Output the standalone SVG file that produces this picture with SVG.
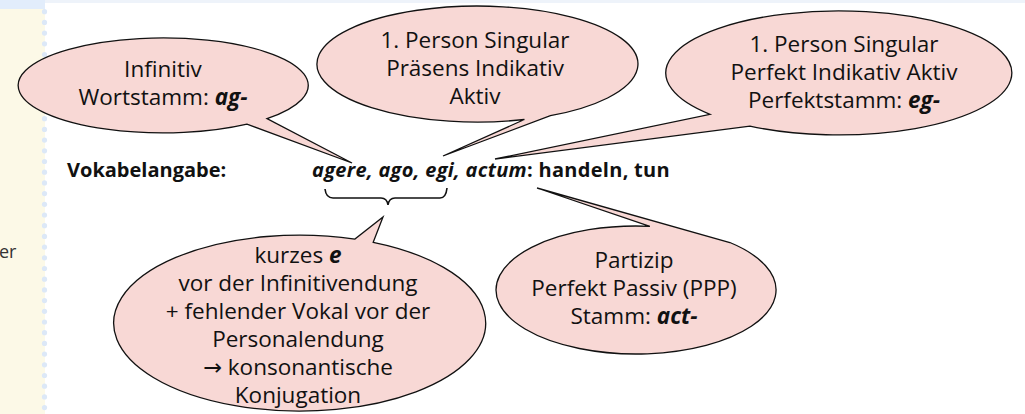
<svg xmlns="http://www.w3.org/2000/svg" width="1025" height="414" viewBox="0 0 1025 414">
<defs>
<style>
.bub{fill:#f8d8d5;stroke:#111;stroke-width:1.3;stroke-linejoin:miter}
.bt{font-family:"Open Sans","Noto Sans","DejaVu Sans",sans-serif;font-size:22.5px;fill:#111;text-anchor:middle}
.main{font-family:"Open Sans","Noto Sans","DejaVu Sans",sans-serif;font-size:20px;font-weight:bold;fill:#111}
.it{font-style:italic;font-weight:bold}
.dot{fill:#dce8f7}
</style>
</defs>
<rect x="0" y="0" width="1025" height="414" fill="#ffffff"/>
<rect x="0" y="0" width="1025" height="3" fill="#eef3fa"/>
<g id="sidebar">
<rect x="0" y="9" width="45" height="405" fill="#fcf9e7"/>
<rect x="0" y="0" width="45" height="9" fill="#e2edfb"/>
<g class="dot">
<circle cx="44.5" cy="11.7" r="2.6"/><circle cx="44.5" cy="22.4" r="2.6"/><circle cx="44.5" cy="33.1" r="2.6"/><circle cx="44.5" cy="43.8" r="2.6"/><circle cx="44.5" cy="54.5" r="2.6"/><circle cx="44.5" cy="65.2" r="2.6"/><circle cx="44.5" cy="75.9" r="2.6"/><circle cx="44.5" cy="86.6" r="2.6"/><circle cx="44.5" cy="97.3" r="2.6"/><circle cx="44.5" cy="108" r="2.6"/><circle cx="44.5" cy="118.7" r="2.6"/><circle cx="44.5" cy="129.4" r="2.6"/><circle cx="44.5" cy="140.1" r="2.6"/><circle cx="44.5" cy="150.8" r="2.6"/><circle cx="44.5" cy="161.5" r="2.6"/><circle cx="44.5" cy="172.2" r="2.6"/><circle cx="44.5" cy="182.9" r="2.6"/><circle cx="44.5" cy="193.6" r="2.6"/><circle cx="44.5" cy="204.3" r="2.6"/><circle cx="44.5" cy="215" r="2.6"/><circle cx="44.5" cy="225.7" r="2.6"/><circle cx="44.5" cy="236.4" r="2.6"/><circle cx="44.5" cy="247.1" r="2.6"/><circle cx="44.5" cy="257.8" r="2.6"/><circle cx="44.5" cy="268.5" r="2.6"/><circle cx="44.5" cy="279.2" r="2.6"/><circle cx="44.5" cy="289.9" r="2.6"/><circle cx="44.5" cy="300.6" r="2.6"/><circle cx="44.5" cy="311.3" r="2.6"/><circle cx="44.5" cy="322" r="2.6"/><circle cx="44.5" cy="332.7" r="2.6"/><circle cx="44.5" cy="343.4" r="2.6"/><circle cx="44.5" cy="354.1" r="2.6"/><circle cx="44.5" cy="364.8" r="2.6"/><circle cx="44.5" cy="375.5" r="2.6"/><circle cx="44.5" cy="386.2" r="2.6"/><circle cx="44.5" cy="396.9" r="2.6"/><circle cx="44.5" cy="407.6" r="2.6"/>
</g>
<text x="-1" y="258" font-family="Open Sans, sans-serif" font-size="18" fill="#333">er</text>
</g>
<g id="vokabel">
<text class="main" x="67" y="177">Vokabelangabe:</text>
<text class="main" x="312" y="177" letter-spacing="0.3"><tspan class="it">agere, ago, egi, actum</tspan>: handeln, tun</text>
</g>
<g id="connectors">
<path id="brace" d="M325,189 Q326,198 333,198 L381,198 Q387,198 388,205 Q389,198 395,198 L440,198 Q446,198 447,188" fill="none" stroke="#111" stroke-width="1.6"/>
</g>
<g id="bubble-infinitiv">
<path class="bub" d="M247.0,124.2 A145,47.5 0 1 1 267.0,118.6 L352,163 Z"/>
<text class="bt" x="163" y="77">Infinitiv</text>
<text class="bt" x="163" y="105">Wortstamm: <tspan class="it">ag-</tspan></text>
</g>
<g id="bubble-praesens">
<path class="bub" d="M524.4,119.5 A160.5,58 0 1 1 550.4,115.7 L443,156 Z"/>
<text class="bt" x="475" y="48">1. Person Singular</text>
<text class="bt" x="475" y="76">Präsens Indikativ</text>
<text class="bt" x="475" y="104">Aktiv</text>
</g>
<g id="bubble-perfekt">
<path class="bub" d="M710.0,114.3 A173,62 0 1 1 749.9,126.1 L495,159 Z"/>
<text class="bt" x="844" y="52">1. Person Singular</text>
<text class="bt" x="844" y="80">Perfekt Indikativ Aktiv</text>
<text class="bt" x="844" y="108">Perfektstamm: <tspan class="it">eg-</tspan></text>
</g>
<g id="bubble-konjugation">
<path class="bub" d="M373.2,242.3 A186,88 0 1 1 354.9,239.1 L383,217 Z"/>
<text class="bt" x="298" y="263">kurzes <tspan class="it">e</tspan></text>
<text class="bt" x="298" y="291">vor der Infinitivendung</text>
<text class="bt" x="298" y="319">+ fehlender Vokal vor der</text>
<text class="bt" x="298" y="347">Personalendung</text>
<text class="bt" x="298" y="375">→ konsonantische</text>
<text class="bt" x="298" y="403">Konjugation</text>
</g>
<g id="bubble-partizip">
<path class="bub" d="M729.9,242.5 A140,64 0 1 1 649.9,226.3 L537,188 Z"/>
<text class="bt" x="634" y="268">Partizip</text>
<text class="bt" x="634" y="296">Perfekt Passiv (PPP)</text>
<text class="bt" x="634" y="324">Stamm: <tspan class="it">act-</tspan></text>
</g>
</svg>
